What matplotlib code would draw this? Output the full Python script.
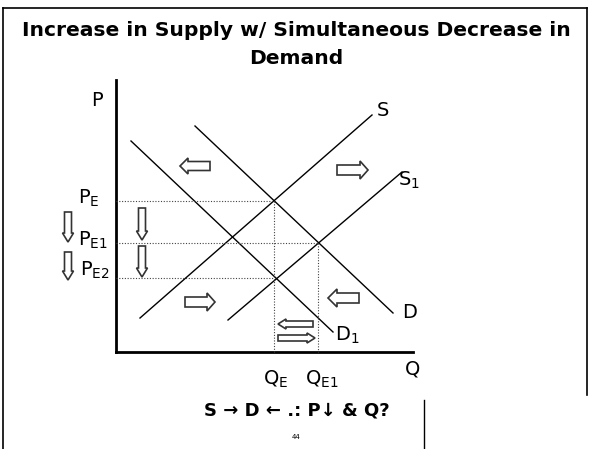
import matplotlib
matplotlib.use("Agg")
import matplotlib.pyplot as plt
from matplotlib.patches import Polygon
import numpy as np

# ---- data (pixel-space diagram coordinates, y grows downward) ----
curve_names = ["S", "S1", "D", "D1"]
curve_x = [[140, 372], [228, 402], [195, 393], [131, 333]]
curve_y = [[318, 115], [320, 172], [126, 313], [141, 332]]
curve_labels = ["S", "S$_1$", "D", "D$_1$"]
label_x = [383, 409, 410, 347]
label_y = [110, 180, 312, 335]

eq_q = [274, 318, 274]          # QE, QE1, QE
eq_p = [201, 243, 278]          # PE, PE1, PE2
p_labels = ["P$_{\\rm E}$", "P$_{\\rm E1}$", "P$_{\\rm E2}$"]
q_labels = ["Q$_{\\rm E}$", "Q$_{\\rm E1}$"]

axis_origin = (116, 352)
axis_top = 80
axis_right = 413

fig = plt.figure(figsize=(5.9, 4.49), dpi=100)
ax = fig.add_axes([0, 0, 1, 1])
ax.set_xlim(0, 590)
ax.set_ylim(449, 0)
ax.axis("off")

# frame
ax.plot([3, 3], [8, 449], color="black", lw=1.2)
ax.plot([3, 587], [8, 8], color="black", lw=1.2)
ax.plot([587, 587], [8, 395], color="black", lw=1.2)
ax.plot([424, 424], [400, 449], color="black", lw=1.0)

title_font = ["DejaVu Sans"]
ax.text(296, 30, "Increase in Supply w/ Simultaneous Decrease in", ha="center", va="center",
        fontsize=14.6, fontweight="bold", family=title_font)
ax.text(296, 58, "Demand", ha="center", va="center", fontsize=14.6, fontweight="bold", family=title_font)

# axes
ox, oy = axis_origin
ax.plot([ox, ox], [axis_top, oy], color="black", lw=2)
ax.plot([ox, axis_right], [oy, oy], color="black", lw=2)
lab_font = ["DejaVu Sans"]
ax.text(97, 100, "P", ha="center", va="center", fontsize=14, family=lab_font)
ax.text(413, 369, "Q", ha="center", va="center", fontsize=14, family=lab_font)

# curves
for xs, ys in zip(curve_x, curve_y):
    ax.plot(xs, ys, color="black", lw=1.0)
for t, lx, ly in zip(curve_labels, label_x, label_y):
    ax.text(lx, ly, t, ha="center", va="center", fontsize=14, family=lab_font)

# dotted guide lines
dot = dict(color="#444444", lw=0.8, ls=(0, (1, 1.5)))
for q, p in zip(eq_q, eq_p):
    ax.plot([ox, q], [p, p], **dot)
ax.plot([eq_q[0], eq_q[0]], [eq_p[0], oy], **dot)
ax.plot([eq_q[1], eq_q[1]], [eq_p[1], oy], **dot)

# price / quantity labels
ax.text(89, 198, p_labels[0], ha="center", va="center", fontsize=14, family=lab_font)
ax.text(93, 240, p_labels[1], ha="center", va="center", fontsize=14, family=lab_font)
ax.text(95, 270, p_labels[2], ha="center", va="center", fontsize=14, family=lab_font)
ax.text(276, 379, q_labels[0], ha="center", va="center", fontsize=14, family=lab_font)
ax.text(322, 379, q_labels[1], ha="center", va="center", fontsize=14, family=lab_font)


def block_arrow(x0, y0, x1, y1, half_w, head_hw, head_len, ec="#333333"):
    d = np.array([x1 - x0, y1 - y0], float)
    L = np.hypot(*d)
    u = d / L
    n = np.array([-u[1], u[0]])
    p0 = np.array([x0, y0], float)
    hb = p0 + u * (L - head_len)
    pts = [p0 + n * half_w, hb + n * half_w, hb + n * head_hw, p0 + u * L,
           hb - n * head_hw, hb - n * half_w, p0 - n * half_w]
    ax.add_patch(Polygon(pts, closed=True, facecolor="white", edgecolor=ec, lw=1.2))


# horizontal shift arrows
block_arrow(210, 166, 180, 166, 4.5, 8, 8)
block_arrow(337, 170, 368, 170, 5, 9, 8)
block_arrow(185, 302, 215, 302, 5, 9, 8)
block_arrow(359, 298, 328, 298, 5, 9, 9)
block_arrow(313, 324, 278, 324, 3, 5, 8)
block_arrow(278, 338, 315, 338, 3, 5, 8)
# down arrows
block_arrow(142, 208, 142, 240, 3.5, 5.5, 9)
block_arrow(142, 246, 142, 277, 3.5, 5.5, 9)
block_arrow(68, 212, 68, 242, 3.5, 5.5, 9)
block_arrow(68, 252, 68, 280, 3.5, 5.5, 9)

# bottom text
ax.text(297, 410, "S → D ← .: P↓ & Q?", ha="center", va="center", fontsize=13,
        fontweight="bold", family=title_font)
ax.text(296, 437, "44", ha="center", va="center", fontsize=5, family=lab_font)

fig.savefig("out.png", dpi=100)
